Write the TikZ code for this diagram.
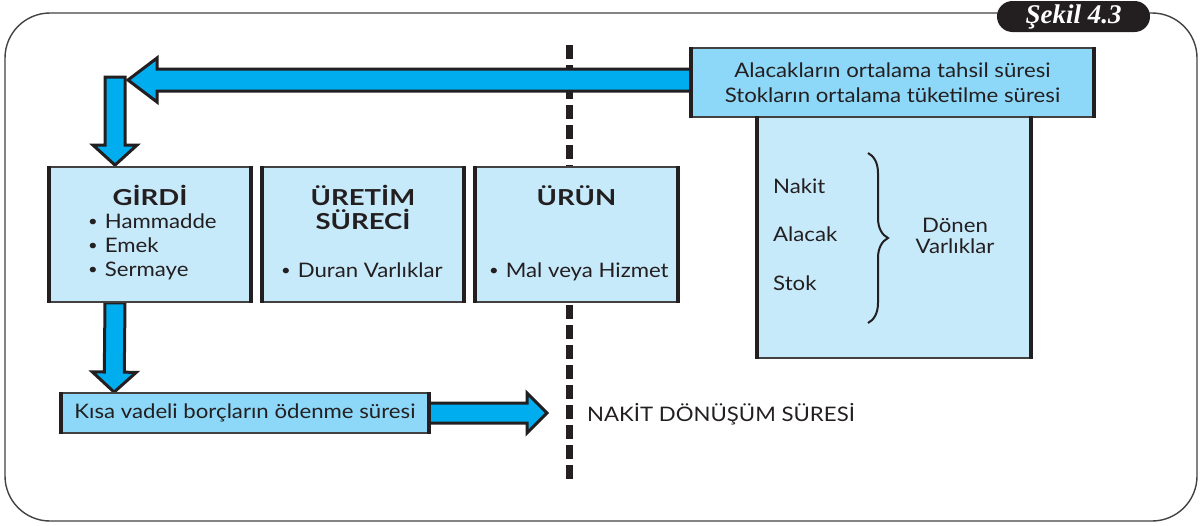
\documentclass[tikz,border=0pt]{standalone}
\usepackage{fontspec}
\setmainfont{Lato}[FakeStretch=1.11]
\newfontfamily\headfont{Lato}[FakeStretch=1.25]
\newfontfamily\capfont{Liberation Serif}
\usetikzlibrary{calc,decorations.pathreplacing}

\definecolor{ink}{HTML}{231F20}
\definecolor{arrowcyan}{HTML}{00AEEF}
\definecolor{boxcyan}{HTML}{8DD8F8}
\definecolor{palecyan}{HTML}{C7EAFB}

\pgfdeclarelayer{back}
\pgfsetlayers{back,main}

% block arrow: start, tip, body half-width, head half-width, head length
\newcommand\fatarrow[5]{%
  \coordinate (fa-b) at ($(#2)!#5!(#1)$);
  \filldraw[fatarrow]
    ($(#1)!#3!90:(#2)$) -- ($(fa-b)!#3!90:(#2)$) -- ($(fa-b)!#4!90:(#2)$) -- (#2)
    -- ($(fa-b)!#4!-90:(#2)$) -- ($(fa-b)!#3!-90:(#2)$) -- ($(#1)!#3!-90:(#2)$) -- cycle;}
% small list bullet
\newcommand\bul{\raisebox{1.5pt}{\fontsize{15}{15}\selectfont •}\hspace{7pt}}

\begin{document}
\begin{tikzpicture}[x=1pt,y=-1pt,
  frame/.style={draw=ink!85,line width=1.4,rounded corners=45},
  pill/.style={fill=ink,text=white,rounded corners=15.5,minimum width=153,minimum height=31,inner sep=0,
    font=\capfont\bfseries\itshape\fontsize{27}{27}\selectfont},
  divider/.style={draw=ink,line width=7,dash pattern=on 13.5 off 6.5},
  panel/.style={fill=palecyan,draw=ink!85,line width=1.8,inner sep=0},
  hipanel/.style={panel,fill=boxcyan},
  side/.style={draw=ink,line width=3.5},
  fatarrow/.style={fill=arrowcyan,draw=ink,line width=3,line join=miter},
  txt/.style={text=ink,inner sep=0,font=\fontsize{20}{25}\selectfont},
  title/.style={txt,font=\headfont\bfseries\fontsize{22}{24}\selectfont,anchor=base},
  item/.style={txt,anchor=base west},
  brace/.style={draw=ink,line width=2,decorate,decoration={brace,amplitude=20}}
]
\useasboundingbox (0,0) rectangle (1202,525);

% outer frame with the figure tab
\draw[frame] (5,13) rectangle (1197,521);
\node[pill] (fig) at (1073.5,16.5) {Şekil 4.3};

% boxes
\node[panel,minimum width=272,minimum height=241] (dv) at (894,237.5) {};
\node[hipanel,minimum width=401,minimum height=69,align=center,txt] (tb) at (892.5,82.5)
  {Alacakların ortalama tahsil süresi\\Stokların ortalama tüketilme süresi};
\node[panel,minimum width=200,minimum height=135] (girdi) at (150,234.5) {};
\node[panel,minimum width=200,minimum height=135] (uretim) at (363,234.5) {};
\node[panel,minimum width=201,minimum height=135] (urun) at (576.5,234.5) {};
\node[hipanel,minimum width=366,minimum height=40,txt] (kisa) at (245,413)
  {Kısa vadeli borçların ödenme süresi};
\foreach \b in {dv,tb,girdi,uretim,urun,kisa}
  \draw[side] (\b.north west) -- (\b.south west) (\b.north east) -- (\b.south east);

% box texts
\node[title] (girdi-t) at (150,205) {GİRDİ};
\node[item] (girdi-1) at (88,228) {\bul Hammadde};
\node[item] (girdi-2) at (88,252) {\bul Emek};
\node[item] (girdi-3) at (88,276) {\bul Sermaye};
\node[title] (uretim-t1) at (363,205) {ÜRETİM};
\node[title] (uretim-t2) at (363,229) {SÜRECİ};
\node[item] (uretim-1) at (281,277) {\bul Duran Varlıklar};
\node[title] (urun-t) at (576.5,205) {ÜRÜN};
\node[item] (urun-1) at (489,277) {\bul Mal veya Hizmet};

\node[item] (nakit) at (773,193) {Nakit};
\node[item] (alacak) at (773,241) {Alacak};
\node[item] (stok) at (773,290) {Stok};
\draw[brace] (868,153) -- (868,323);
\node[txt,anchor=base] (donen1) at (955,232) {Dönen};
\node[txt,anchor=base] (donen2) at (955,253) {Varlıklar};

\node[item] (nds) at (587,421) {NAKİT DÖNÜŞÜM SÜRESİ};

% divider and block arrows, beneath the boxes
\coordinate (tbw) at ($(tb.west)+(0,-2.5)$);
\coordinate (turn) at (128,80);
\coordinate (drop) at (115,77);
\coordinate (gin) at ($(girdi.north)+(-35,-1)$);
\coordinate (gout) at ($(girdi.south)+(-35,0)$);
\coordinate (kin) at ($(kisa.north west)+(53,0)$);
\coordinate (kend) at (547,413);
\coordinate (dtop) at (569,45);
\coordinate (dbot) at (569,480);
\begin{pgfonlayer}{back}
  \draw[divider] (dtop) -- (dbot);
  \fatarrow{tbw}{turn}{11pt}{22pt}{29pt}
  \fatarrow{drop}{gin}{10pt}{22pt}{20pt}
  \fatarrow{gout}{kin}{10pt}{22pt}{20pt}
  \fatarrow{kisa.east}{kend}{10pt}{20pt}{20pt}
\end{pgfonlayer}
\end{tikzpicture}
\end{document}
